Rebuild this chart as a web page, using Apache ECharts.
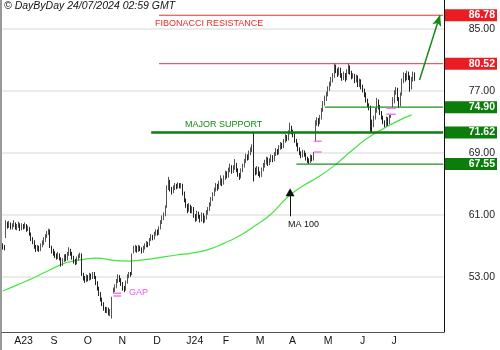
<!DOCTYPE html>
<html><head><meta charset="utf-8">
<script src="https://cdn.jsdelivr.net/npm/echarts@6/dist/echarts.min.js"></script>
<style>html,body{margin:0;padding:0;background:#fff}#c{width:500px;height:350px}</style>
</head><body><div id="c"></div>
<script>
const FONT = "'Liberation Sans', Arial, sans-serif";
const startDate = [2023, 6, 24];
const slotCount = 280;
const monthLabels = ['A23','S','O','N','D','J24','F','M','A','M','J','J'];
const yTickValues = [53, 61, 69, 77, 85];
const levelValues = [86.78, 80.52, 74.90, 71.62, 67.55];
const levelStart = [99, 99, 204, 94, 186];
const levelKinds = ['res', 'res', 'sup', 'major', 'sup'];

const opens = [
57.1,56.9,58.1,59.9,59.5,59.8,59.4,59.7,59.8,59.3,
59.6,59.7,59.2,59.6,59.4,59.6,59.1,59.2,58.5,57.9,
57.5,56.9,56.6,56.8,56.5,57.0,57.4,57.8,58.2,58.7,
58.9,56.8,56.3,56.0,55.8,55.5,55.8,55.3,54.7,55.1,
55.6,55.3,55.9,56.4,56.0,55.5,55.0,54.8,55.3,55.6,
55.8,53.3,52.8,52.5,53.0,52.7,53.2,52.9,53.3,52.9,
52.2,51.5,50.8,50.1,49.5,48.9,48.6,48.8,48.3,48.0,
50.9,51.3,51.7,52.4,53.0,52.6,52.1,51.5,51.4,52.3,
53.0,53.4,53.4,56.2,56.5,56.8,56.4,56.9,56.6,56.3,
56.7,57.0,57.3,57.1,57.8,58.2,58.0,58.5,58.9,58.6,
59.3,60.0,60.6,61.0,62.0,64.6,65.3,64.3,64.0,64.5,
64.8,64.6,65.0,64.7,64.8,63.8,62.9,62.2,61.6,62.1,
61.5,61.8,60.9,60.4,61.2,60.8,60.3,61.0,60.2,60.6,
61.3,61.7,62.3,63.0,63.6,64.2,64.8,64.5,65.1,65.5,
65.0,65.8,66.4,66.0,66.8,67.2,66.6,67.0,67.5,66.8,
66.2,65.9,66.7,67.3,67.9,68.6,68.3,69.0,69.4,69.8,
66.8,66.5,67.0,66.3,66.0,66.8,67.4,67.8,68.2,67.6,
68.0,68.5,68.1,68.8,69.3,69.0,69.7,70.1,69.8,70.5,
71.1,70.8,71.6,72.2,71.8,71.3,70.6,70.1,69.5,69.0,
68.6,69.1,68.8,68.3,68.0,67.9,68.5,68.2,70.6,72.8,
73.2,72.9,73.5,74.5,75.4,76.0,76.5,77.3,77.9,78.4,
78.9,80.2,79.6,79.2,79.8,79.0,78.7,79.1,78.6,79.5,
80.1,79.4,78.9,79.0,78.4,78.8,77.8,78.3,77.5,77.1,
76.6,75.8,75.2,74.9,73.0,72.5,73.5,74.4,75.6,75.0,
74.2,73.6,73.0,72.6,73.4,72.9,73.8,75.0,75.6,76.8,
77.2,76.0,75.2,76.5,78.3,79.0,78.6,79.3,78.8,77.4,
78.5,79.2];
const closes = [
56.9,56.7,59.8,59.6,59.9,59.4,59.6,59.9,59.3,59.5,
59.8,59.2,59.6,59.4,59.7,59.1,59.3,58.6,57.9,57.6,
56.9,56.5,56.8,56.4,57.0,57.4,57.8,58.2,58.7,59.0,
56.9,56.3,56.0,55.8,55.5,55.9,55.4,54.6,55.1,55.6,
55.3,55.9,56.5,56.0,55.5,55.0,54.8,55.3,55.7,55.9,
53.4,52.8,52.5,53.0,52.7,53.2,52.9,53.3,53.0,52.2,
51.5,50.8,50.1,49.5,48.9,48.6,48.8,48.3,48.5,50.2,
51.3,51.6,52.4,53.0,52.6,52.1,51.5,51.3,52.3,53.0,
53.4,53.3,55.8,56.5,56.8,56.4,56.9,56.6,56.3,56.7,
57.0,57.3,57.1,57.8,58.2,58.0,58.5,58.9,58.6,59.2,
60.0,60.6,61.0,61.8,64.5,65.4,64.3,64.0,64.5,64.8,
64.6,65.0,64.7,64.9,63.8,62.9,62.2,61.6,62.1,61.5,
61.8,60.9,60.4,61.2,60.8,60.3,61.0,60.2,60.6,61.3,
61.7,62.3,63.0,63.6,64.2,64.8,64.5,65.1,65.5,65.0,
65.8,66.4,66.0,66.8,67.2,66.6,67.0,67.5,66.8,66.2,
65.9,66.7,67.3,67.9,68.6,68.3,69.0,69.4,69.8,66.8,
66.5,67.0,66.3,66.0,66.8,67.4,67.8,68.2,67.6,68.0,
68.5,68.1,68.8,69.3,69.0,69.7,70.1,69.8,70.5,71.1,
70.8,71.6,72.2,71.8,71.3,70.6,70.1,69.5,69.0,68.6,
69.1,68.8,68.3,68.0,67.9,68.5,68.2,68.8,72.8,73.2,
72.9,73.5,74.5,75.4,76.0,76.5,77.3,77.9,78.4,78.9,
80.2,79.6,79.2,79.8,79.0,78.7,79.1,78.6,79.5,80.1,
79.4,78.9,79.0,78.4,78.8,77.8,78.3,77.5,77.1,76.6,
75.8,75.2,74.9,73.0,72.5,73.5,74.4,75.6,75.0,74.2,
73.6,73.0,72.6,73.4,72.9,73.8,74.0,75.6,76.8,77.2,
76.0,75.2,76.5,78.3,79.0,78.6,79.3,78.8,77.4,78.5,
79.2,78.6];
const lows = [
56.5,56.4,58.0,59.2,59.3,59.1,59.1,59.4,59.1,59.0,
59.3,58.9,59.0,59.1,59.2,58.8,58.9,58.3,57.6,57.2,
56.6,56.2,56.3,56.2,56.3,56.8,57.1,57.5,58.0,58.4,
56.7,56.0,55.7,55.4,55.2,55.3,55.1,54.3,54.4,54.9,
55.0,55.1,55.7,55.7,55.2,54.7,54.5,54.6,55.1,55.4,
53.1,52.5,52.2,52.3,52.4,52.5,52.6,52.7,52.7,51.9,
51.2,50.5,49.8,49.2,48.6,48.3,48.3,48.0,47.9,47.6,
50.85,51.0,51.5,52.2,52.3,51.8,51.2,51.0,51.2,52.1,
52.8,53.0,53.2,56.0,56.2,56.1,56.2,56.3,56.0,56.1,
56.5,56.8,56.8,57.0,57.6,57.7,57.8,58.3,58.3,58.4,
59.1,59.8,60.3,60.8,61.9,64.2,64.0,63.6,63.8,64.2,
64.3,64.4,64.4,64.4,63.5,62.6,61.9,61.2,61.4,61.2,
61.2,60.6,60.1,60.2,60.5,60.0,60.1,59.9,60.0,60.4,
61.0,61.5,62.1,62.8,63.4,64.0,64.1,64.3,64.8,64.7,
64.9,65.5,65.7,65.8,66.5,66.3,66.4,66.8,66.5,65.9,
65.5,65.7,66.5,67.1,67.7,68.0,68.1,68.7,69.1,65.3,
66.1,66.2,66.0,65.8,65.9,66.6,67.1,67.5,67.3,67.4,
67.8,67.8,67.9,68.6,68.7,68.8,69.4,69.5,69.6,70.3,
70.5,70.6,71.4,71.4,71.0,70.3,69.8,69.2,68.7,68.3,
68.4,68.5,68.0,67.7,67.55,67.7,67.9,68.0,70.5,72.5,
72.4,72.7,73.3,74.3,75.1,75.7,76.3,77.0,77.6,78.1,
78.7,79.3,78.8,79.0,78.7,78.3,78.4,78.2,78.4,79.2,
79.1,78.5,78.6,78.0,78.1,77.5,77.5,77.2,76.8,76.2,
75.5,74.9,74.5,71.7,71.7,72.3,73.3,74.2,74.6,73.9,
73.3,72.7,72.3,72.4,72.5,72.7,73.5,74.8,75.4,76.5,
75.7,74.8,75.0,76.4,78.0,78.2,78.4,78.4,76.9,77.2,
78.2,78.3];
const highs = [
57.3,57.1,60.3,60.1,60.2,60.0,59.9,60.3,60.0,59.8,
60.1,59.9,59.9,59.8,60.0,59.8,59.6,59.4,58.7,58.1,
57.7,57.1,57.1,57.0,57.3,57.7,58.1,58.5,58.9,59.2,
59.1,57.0,56.6,56.3,56.0,56.2,56.0,55.5,55.4,55.9,
55.9,56.2,56.8,56.6,56.2,55.7,55.3,55.6,55.9,56.1,
56.0,53.5,53.1,53.3,53.2,53.5,53.4,53.6,53.6,53.1,
52.4,51.7,51.0,50.3,49.7,49.1,49.1,49.0,48.8,50.4,
51.6,52.0,52.7,53.3,53.2,52.8,52.3,51.8,52.5,53.3,
53.6,53.6,56.0,57.0,57.1,57.0,57.1,57.0,56.8,57.0,
57.3,57.6,57.5,58.0,58.5,58.4,58.8,59.1,59.1,59.5,
60.3,60.9,61.3,62.2,64.8,65.9,65.5,64.6,64.8,65.1,
65.0,65.2,65.1,65.1,65.0,64.0,63.1,62.4,62.5,62.3,
62.1,62.0,61.1,61.5,61.4,61.0,61.3,61.2,60.9,61.6,
62.0,62.6,63.3,63.9,64.5,65.1,65.0,65.4,66.1,65.7,
66.1,66.7,66.6,67.1,67.6,67.4,67.4,68.2,67.7,67.0,
66.4,67.0,67.6,68.2,68.9,68.8,69.3,69.7,70.1,71.7,
67.1,67.3,67.2,66.6,67.1,67.7,68.1,68.5,68.4,68.3,
68.8,68.7,69.1,69.6,69.5,70.0,70.4,70.3,70.8,71.4,
71.3,71.9,72.9,72.5,72.0,71.5,70.8,70.3,69.7,69.2,
69.4,69.3,69.0,68.5,68.3,68.8,68.7,69.1,73.2,73.6,
73.5,73.9,74.8,75.7,76.4,76.9,77.6,78.2,78.8,79.3,
80.6,80.4,79.9,80.1,80.0,79.3,79.5,79.3,79.8,80.6,
80.3,79.6,79.3,79.2,79.1,79.0,78.6,78.5,77.8,77.3,
76.8,76.0,75.4,75.1,73.3,73.8,74.8,76.1,75.9,75.2,
74.4,73.8,73.2,73.7,73.6,74.0,74.0,76.2,77.1,77.5,
77.4,76.2,76.8,78.6,79.4,79.3,79.6,79.5,79.0,78.8,
79.5,79.4];

const maIndex = [0,10,20,30,40,50,60,70,80,90,100,110,120,130,140,150,160,170,180,190,200,210,220,230,240,250,259];
const maValues = [51.15,52.0,52.9,53.9,54.8,55.2,55.4,55.1,55.0,55.2,55.5,55.8,56.05,56.5,57.3,58.3,59.6,61.1,63.2,64.7,65.9,67.35,69.1,70.75,72.0,73.1,73.9];

const gapStart = [70, 197, 243];
const gapEnd = [75, 202, 249];
const gapUpper = [50.85, 70.5, 74.75];
const gapLower = [50.5, 69.1, 73.98];

const targetFrom = [264, 78.4];
const targetTo = [277, 86.8];
const maArrowIdx = 182;
const maArrowFrom = 60.8;
const maArrowTo = 63.9;

// weekday calendar
const dates = [];
let d = new Date(Date.UTC(startDate[0], startDate[1], startDate[2]));
while (dates.length < slotCount) {
  const wd = d.getUTCDay();
  if (wd !== 0 && wd !== 6) dates.push(d.toISOString().slice(0, 10));
  d = new Date(d.getTime() + 86400000);
}
const monthStart = {};
let mCount = 0;
dates.forEach((s, i) => {
  if (i > 0 && s.slice(5, 7) !== dates[i - 1].slice(5, 7)) {
    if (mCount < monthLabels.length) monthStart[i] = monthLabels[mCount];
    mCount++;
  }
});

const RED = '#ec1c24', GREEN = '#0a7d0a';
const lineColor = { res: '#f03030', sup: '#1b8f1b', major: '#0d7e0d' };
const lineWidth = { res: 1, sup: 1.2, major: 2.5 };
const last = slotCount - 1;

function segLine(color, width, a, b) {
  return {
    type: 'line', yAxisIndex: 0, silent: true, symbol: 'none', showSymbol: false,
    data: [a, b], color: color,
    lineStyle: { color: color, width: width, type: 'solid' },
    emphasis: { disabled: true }, z: 4
  };
}
function arrowSeries(color, width, a, b, sym, size) {
  return {
    type: 'line', yAxisIndex: 0, data: [], silent: true, color: color,
    markLine: {
      silent: true, animation: false, symbol: ['none', sym], symbolSize: size,
      label: { show: false },
      lineStyle: { color: color, width: width, type: 'solid' },
      emphasis: { disabled: true },
      data: [[{ coord: a }, { coord: b }]]
    },
    z: 4
  };
}

const levelSeries = levelValues.map((v, k) => segLine(
  lineColor[levelKinds[k]], lineWidth[levelKinds[k]], [levelStart[k], v], [last, v]));
const gapSeries = [];
gapStart.forEach((s, k) => {
  gapSeries.push(segLine('#f27cf2', 1.5, [s, gapUpper[k]], [gapEnd[k], gapUpper[k]]));
  gapSeries.push(segLine('#f27cf2', 1.5, [s, gapLower[k]], [gapEnd[k], gapLower[k]]));
});

const rich = {
  r: { backgroundColor: RED, color: '#fff', fontWeight: 'bold', fontSize: 10.5, fontFamily: FONT, width: 48, height: 12, lineHeight: 12, align: 'right', padding: [0, 2, 0, 2] },
  g: { backgroundColor: GREEN, color: '#fff', fontWeight: 'bold', fontSize: 10.5, fontFamily: FONT, width: 48, height: 12, lineHeight: 12, align: 'right', padding: [0, 2, 0, 2] }
};

const chart = echarts.init(document.getElementById('c'), null, { renderer: 'canvas' });
chart.setOption({
  animation: false,
  backgroundColor: '#fff',
  textStyle: { fontFamily: FONT },
  title: {
    text: '\u00a9 DayByDay 24/07/2024 02:59 GMT', left: 4, top: 1, padding: 0,
    textStyle: { fontStyle: 'italic', fontWeight: 'normal', fontSize: 10.5, color: '#111', fontFamily: FONT }
  },
  grid: { left: 2, right: 53, top: 0, bottom: 18, containLabel: false },
  xAxis: {
    type: 'category', data: dates, boundaryGap: true,
    axisLine: { lineStyle: { color: '#555', width: 1 } },
    axisTick: { interval: (i) => monthStart[i] !== undefined, length: 18, lineStyle: { color: '#555' } },
    axisLabel: {
      interval: (i) => monthStart[i] !== undefined,
      formatter: (v, i) => monthStart[i] || '',
      align: 'left', padding: [0, 0, 0, 2], margin: 4, fontSize: 10.5, color: '#111', fontFamily: FONT
    },
    splitLine: { show: false }
  },
  yAxis: [{
    type: 'value', position: 'right', min: 45.85, max: 88.75, scale: true,
    axisLine: { show: true, lineStyle: { color: '#111' } },
    axisTick: { show: false, customValues: yTickValues },
    axisLabel: { customValues: yTickValues, formatter: v => v.toFixed(2), align: 'right', margin: 51, fontSize: 10.5, color: '#222', fontFamily: FONT },
    splitLine: { show: true, lineStyle: { color: '#ebebeb', width: 2 } }
  }, {
    type: 'value', position: 'right', min: 45.85, max: 88.75, scale: true,
    axisLine: { show: false }, axisTick: { show: false }, splitLine: { show: false },
    axisLabel: {
      customValues: levelValues, margin: 1, align: 'left',
      formatter: v => '{' + (v > 78 ? 'r' : 'g') + '|' + Number(v).toFixed(2) + '}',
      rich: rich
    }
  }],
  series: [{
    type: 'candlestick', yAxisIndex: 0, barWidth: 1,
    data: opens.map((o, i) => [o, closes[i], lows[i], highs[i]]),
    itemStyle: { color: '#999', color0: '#333', borderColor: '#555', borderColor0: '#222', borderWidth: 1 },
    z: 3
  }, {
    type: 'line', yAxisIndex: 0, smooth: true, showSymbol: false, symbol: 'none',
    data: maIndex.map((ix, k) => [ix, maValues[k]]),
    lineStyle: { color: '#43e443', width: 1.2 }, z: 2
  },
  ...levelSeries,
  ...gapSeries,
  arrowSeries('#17891a', 1.5, targetFrom, targetTo, 'arrow', [7, 11]),
  arrowSeries('#111', 1, [maArrowIdx, maArrowFrom], [maArrowIdx, maArrowTo], 'triangle', [9, 8])
  ],
  graphic: [
    { type: 'line', shape: { x1: 1, y1: 0, x2: 1, y2: 350 }, style: { stroke: '#999', lineWidth: 2 } },
    { type: 'text', left: 155, top: 19, style: { text: 'FIBONACCI RESISTANCE', fill: '#ec2a2a', font: '9px ' + FONT } },
    { type: 'text', left: 185, top: 120, style: { text: 'MAJOR SUPPORT', fill: '#138a13', font: '9px ' + FONT } },
    { type: 'text', left: 288, top: 220, style: { text: 'MA 100', fill: '#111', font: '9px ' + FONT } },
    { type: 'text', left: 129, top: 288, style: { text: 'GAP', fill: '#f455f4', font: '9px ' + FONT } }
  ]
});
</script>
</body></html>
